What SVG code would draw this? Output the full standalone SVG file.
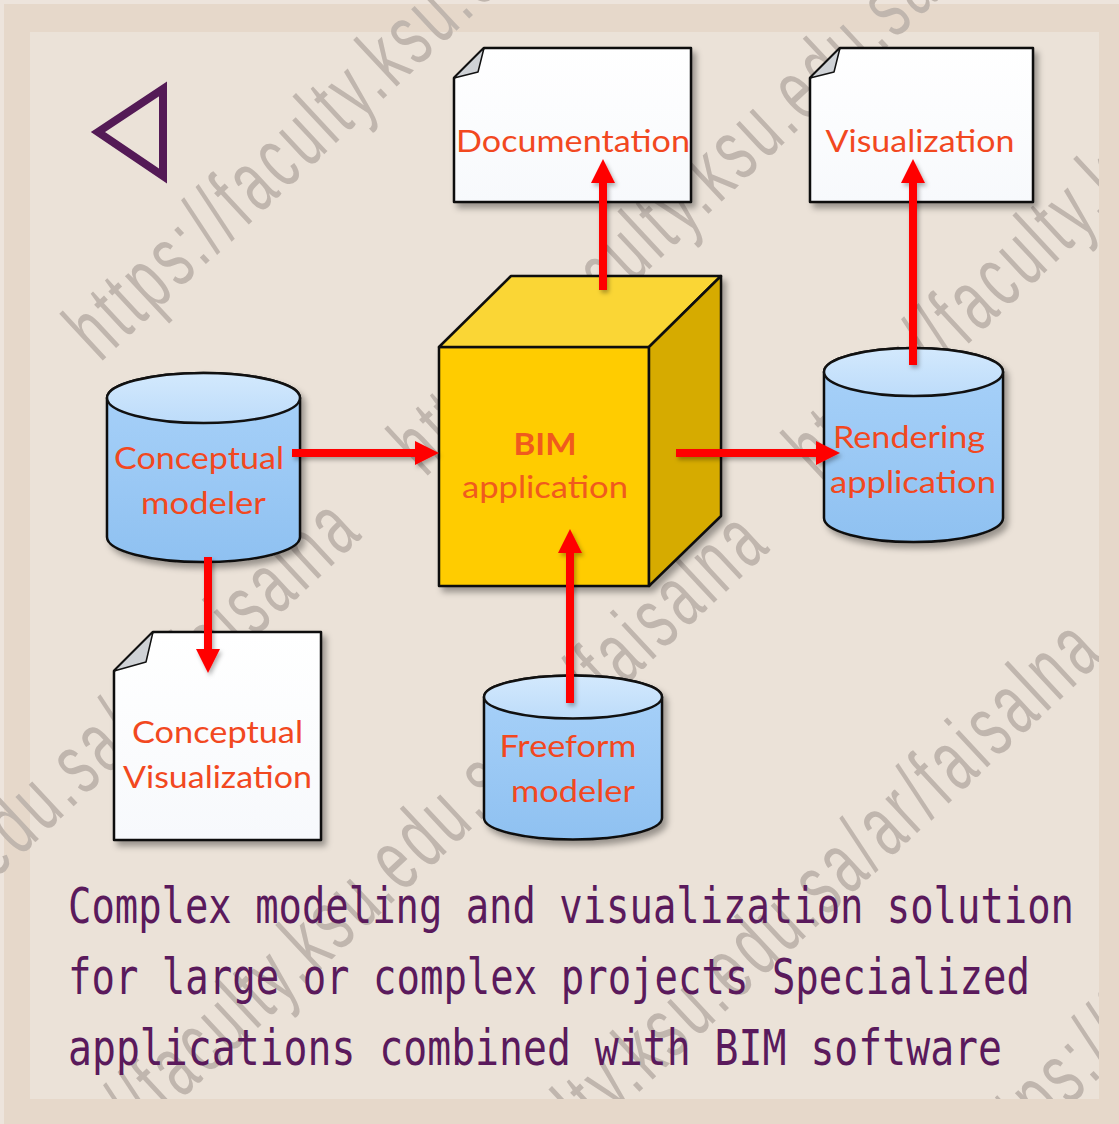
<svg xmlns="http://www.w3.org/2000/svg" width="1119" height="1124" viewBox="0 0 1119 1124">
<defs>
<style>
.lbl{font-family:Lato,"Open Sans","Liberation Sans",sans-serif;font-size:30px;fill:#f2481f;text-anchor:middle}
.bold{font-weight:bold}
.cap{font-family:"DejaVu Sans Mono","Liberation Mono",monospace;font-size:49px;fill:#5a1a5c}
.wm{font-family:"Liberation Sans",Arial,sans-serif;font-size:88px;fill:#c0b6ae;letter-spacing:7px}
.ol{stroke:#111;stroke-width:2.5;stroke-linejoin:round}
.arr{stroke:#ff0000;stroke-width:8;fill:none;marker-end:url(#ah)}
</style>
<filter id="sh" x="-15%" y="-15%" width="135%" height="135%">
<feDropShadow dx="4" dy="5" stdDeviation="3" flood-color="#000" flood-opacity="0.35"/>
</filter>
<filter id="ash" x="-20%" y="-20%" width="140%" height="140%">
<feDropShadow dx="2" dy="3" stdDeviation="2" flood-color="#000" flood-opacity="0.3"/>
</filter>
<linearGradient id="cylBody" x1="0" y1="0" x2="0" y2="1">
<stop offset="0" stop-color="#a9d2f9"/>
<stop offset="1" stop-color="#8fc1f1"/>
</linearGradient>
<linearGradient id="cylTop" x1="0" y1="0" x2="0" y2="1">
<stop offset="0" stop-color="#d3e9fd"/>
<stop offset="1" stop-color="#bddcfa"/>
</linearGradient>
<linearGradient id="docFill" x1="0" y1="0" x2="0" y2="1">
<stop offset="0" stop-color="#ffffff"/>
<stop offset="1" stop-color="#f7f9fc"/>
</linearGradient>
<marker id="ah" markerUnits="userSpaceOnUse" markerWidth="24" markerHeight="26" refX="2" refY="13" orient="auto">
<path d="M0,1 L24,13 L0,25 Z" fill="#ff0000"/>
</marker>
<clipPath id="wmclip"><rect x="0" y="0" width="1099" height="1099"/></clipPath>
</defs>

<g id="frame">
<rect x="0" y="0" width="1119" height="1124" fill="#e6d8ca"/>
<rect x="0" y="0" width="1119" height="4" fill="#ede4dc"/>
<rect x="0" y="0" width="4" height="1124" fill="#ede4dc"/>
<rect x="30" y="32" width="1069" height="1067" fill="#ebe2d8"/>
</g>

<g id="watermark" clip-path="url(#wmclip)">
<text class="wm" transform="translate(100,363) rotate(-43) scale(0.62,1)">https://faculty.ksu.edu.sa/ar/faisalna</text>
<text class="wm" transform="translate(-386,1235) rotate(-43) scale(0.62,1)">https://faculty.ksu.edu.sa/ar/faisalna</text>
<text class="wm" transform="translate(425,478) rotate(-43) scale(0.62,1)">https://faculty.ksu.edu.sa/ar/faisalna</text>
<text class="wm" transform="translate(22,1248) rotate(-43) scale(0.62,1)">https://faculty.ksu.edu.sa/ar/faisalna</text>
<text class="wm" transform="translate(820,482) rotate(-43) scale(0.62,1)">https://faculty.ksu.edu.sa/ar/faisalna</text>
<text class="wm" transform="translate(356,1356) rotate(-43) scale(0.62,1)">https://faculty.ksu.edu.sa/ar/faisalna</text>
<text class="wm" transform="translate(990,1180) rotate(-43) scale(0.62,1)">https://faculty.ksu.edu.sa/ar/faisalna</text>
</g>

<g id="back-triangle">
<polygon points="98,132 163,89 163,176" fill="none" stroke="#541a56" stroke-width="8" stroke-linejoin="miter"/>
</g>

<g id="documentation">
<path class="ol" d="M484,48 H691 V202 H454 V78 Z" fill="url(#docFill)" filter="url(#sh)"/>
<path d="M454,78 L484,48 L478,72 Z" fill="#cfd2d6" stroke="#111" stroke-width="1.5" stroke-linejoin="round"/>
<text class="lbl" x="573" y="152" textLength="234" lengthAdjust="spacingAndGlyphs">Documentation</text>
</g>

<g id="visualization">
<path class="ol" d="M840,48 H1033 V202 H810 V78 Z" fill="url(#docFill)" filter="url(#sh)"/>
<path d="M810,78 L840,48 L834,72 Z" fill="#cfd2d6" stroke="#111" stroke-width="1.5" stroke-linejoin="round"/>
<text class="lbl" x="920" y="152" textLength="189" lengthAdjust="spacingAndGlyphs">Visualization</text>
</g>

<g id="bim-application">
<g filter="url(#sh)">
<rect class="ol" x="439" y="347" width="210" height="239" fill="#ffcc00"/>
<polygon class="ol" points="439,347 511,276 721,276 649,347" fill="#fad634"/>
<polygon class="ol" points="649,347 721,276 721,516 649,586" fill="#d6ab00"/>
</g>
<text class="lbl bold" x="545" y="455" textLength="63" lengthAdjust="spacingAndGlyphs" style="fill:#f05a1e">BIM</text>
<text class="lbl" x="545" y="498" textLength="166" lengthAdjust="spacingAndGlyphs" style="fill:#f05a1e">application</text>
</g>

<g id="conceptual-modeler">
<path class="ol" d="M107,398 V537 A96.5,25 0 0 0 300,537 V398 A96.5,25 0 0 0 107,398 Z" fill="url(#cylBody)" filter="url(#sh)"/>
<ellipse class="ol" cx="203.5" cy="398" rx="96.5" ry="25" fill="url(#cylTop)"/>
<text class="lbl" x="199" y="469" textLength="170" lengthAdjust="spacingAndGlyphs">Conceptual</text>
<text class="lbl" x="203.5" y="514" textLength="125" lengthAdjust="spacingAndGlyphs">modeler</text>
</g>

<g id="rendering-application">
<path class="ol" d="M824,372 V518 A89.5,24 0 0 0 1003,518 V372 A89.5,24 0 0 0 824,372 Z" fill="url(#cylBody)" filter="url(#sh)"/>
<ellipse class="ol" cx="913.5" cy="372" rx="89.5" ry="24" fill="url(#cylTop)"/>
<text class="lbl" x="909" y="448" textLength="152" lengthAdjust="spacingAndGlyphs">Rendering</text>
<text class="lbl" x="913" y="493" textLength="166" lengthAdjust="spacingAndGlyphs">application</text>
</g>

<g id="freeform-modeler">
<path class="ol" d="M484,697 V818 A89,21.5 0 0 0 662,818 V697 A89,21.5 0 0 0 484,697 Z" fill="url(#cylBody)" filter="url(#sh)"/>
<ellipse class="ol" cx="573" cy="697" rx="89" ry="21.5" fill="url(#cylTop)"/>
<text class="lbl" x="568" y="757" textLength="137" lengthAdjust="spacingAndGlyphs">Freeform</text>
<text class="lbl" x="573" y="802" textLength="124" lengthAdjust="spacingAndGlyphs">modeler</text>
</g>

<g id="conceptual-visualization">
<path class="ol" d="M153,632 H321 V840 H114 V671 Z" fill="url(#docFill)" filter="url(#sh)"/>
<path d="M114,671 L153,632 L146,662 Z" fill="#cfd2d6" stroke="#111" stroke-width="1.5" stroke-linejoin="round"/>
<text class="lbl" x="217.5" y="743" textLength="171" lengthAdjust="spacingAndGlyphs">Conceptual</text>
<text class="lbl" x="217.5" y="788" textLength="189" lengthAdjust="spacingAndGlyphs">Visualization</text>
</g>

<g id="connectors" filter="url(#ash)">
<line class="arr" x1="292" y1="453" x2="417" y2="453"/>
<line class="arr" x1="208" y1="557" x2="208" y2="651"/>
<line class="arr" x1="603" y1="290" x2="603" y2="181"/>
<line class="arr" x1="913" y1="365" x2="913" y2="181"/>
<line class="arr" x1="676" y1="453" x2="818" y2="453"/>
<line class="arr" x1="570" y1="703" x2="570" y2="551"/>
</g>

<g id="caption">
<text class="cap" x="68" y="923" textLength="1006" lengthAdjust="spacingAndGlyphs">Complex modeling and visualization solution</text>
<text class="cap" x="68" y="994" textLength="962" lengthAdjust="spacingAndGlyphs">for large or complex projects Specialized</text>
<text class="cap" x="68" y="1065" textLength="934" lengthAdjust="spacingAndGlyphs">applications combined with BIM software</text>
</g>
</svg>
